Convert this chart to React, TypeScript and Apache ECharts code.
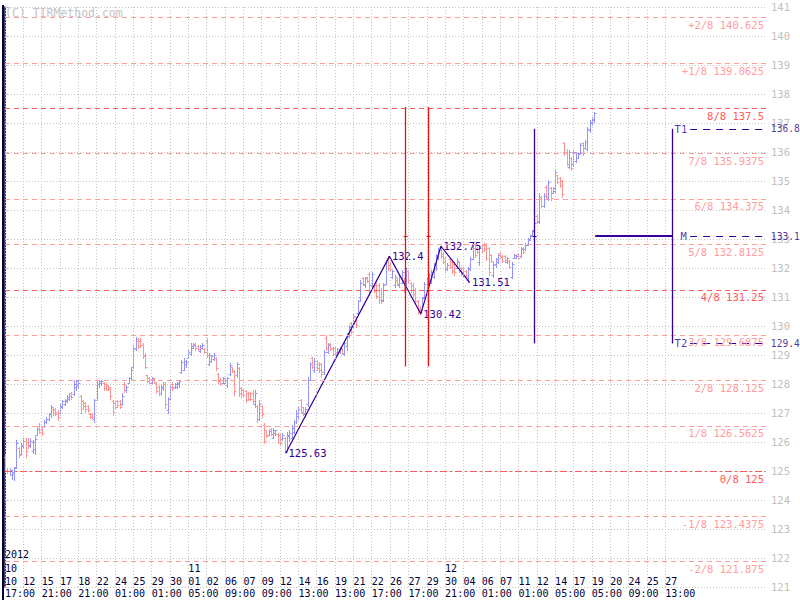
import React, { useEffect, useRef } from 'react';
import * as echarts from 'echarts';

// OHLC bars [open, high, low, close], one per slot
const octBars: number[][] = [
  [125.5,125.6,124.98,125.05],[125.05,125.09,124.92,125.0],[125.0,125.1,124.9,125.05],[124.85,125.05,124.72,124.98],
  [124.9,125.15,124.69,125.1],[125.15,126.07,125.1,125.95],[125.8,125.84,125.5,125.55],[125.6,125.95,125.58,125.85],
  [125.9,126.13,125.84,126.05],[126.05,126.13,125.5,125.7],[126.0,126.13,125.78,125.85],[125.9,126.13,125.84,126.05],
  [125.7,126.07,125.61,126.0],[125.75,126.2,125.6,126.1],[126.25,126.53,126.24,126.45],[126.55,126.64,126.3,126.35],
  [126.45,126.53,126.24,126.3],[126.55,126.76,126.53,126.7],[126.7,126.87,126.64,126.8],[126.8,126.99,126.76,126.95],
  [126.95,127.28,126.87,127.2],[127.15,127.16,126.93,127.0],[127.1,127.16,126.93,126.98],[127.05,127.1,126.76,126.85],
  [127.0,127.33,126.99,127.25],[127.2,127.45,127.16,127.4],[127.3,127.5,127.28,127.45],[127.4,127.62,127.39,127.55],
  [127.5,127.68,127.45,127.6],[127.7,127.73,127.5,127.55],[127.65,128.14,127.62,128.0],[127.9,128.14,127.79,128.1],
  [127.95,128.14,127.91,128.05],[127.6,127.62,126.99,127.15],[127.4,127.45,127.16,127.25],[127.35,127.39,127.05,127.15],
  [127.25,127.28,127.05,127.1],[126.98,126.99,126.82,126.86],[126.95,126.99,126.82,126.85],[126.8,127.5,126.7,127.45],
  [127.45,128.1,127.45,128.0],[128.0,128.14,127.91,128.1],[128.05,128.14,127.96,128.1],[128.05,128.08,127.79,127.85],
  [128.0,128.02,127.79,127.82],[127.95,127.97,127.79,127.82],[127.9,127.91,127.5,127.6],[127.4,127.45,126.93,127.05],
  [127.35,127.39,127.16,127.2],[127.4,127.45,127.22,127.28],[127.4,127.45,127.16,127.2],[127.3,127.68,127.28,127.6],
  [128.0,128.08,127.74,127.8],[127.8,127.97,127.74,127.9],[128.05,128.25,128.02,128.2],[128.2,128.6,128.14,128.5],
  [128.6,129.34,128.55,129.25],[129.2,129.63,129.17,129.55],[129.5,129.57,129.23,129.3],[129.5,129.57,129.29,129.35],
  [129.35,129.4,128.89,128.95],[129.0,129.06,128.54,128.6],[128.3,128.31,128.08,128.12],[128.2,128.25,128.02,128.05],
  [128.05,128.25,128.02,128.2],[128.18,128.2,128.02,128.05],[128.05,128.08,127.68,127.75],[127.9,127.97,127.62,127.7],
  [127.7,127.97,127.62,127.9],[127.85,128.08,127.79,128.0],[128.0,128.08,127.16,127.3],[127.1,127.56,126.99,127.5],
  [127.5,127.97,127.45,127.9],[128.0,128.08,127.79,127.85],[127.88,128.02,127.85,128.0],[127.9,128.08,127.85,128.05],
  [128.0,128.14,127.91,128.1],[128.4,128.83,128.37,128.75],[128.5,128.89,128.48,128.8],[128.7,128.83,128.6,128.75],
];
const novBars: number[][] = [
  [128.9,129.17,128.89,129.1],[129.05,129.4,129.0,129.3],[129.25,129.4,129.23,129.35],[129.38,129.4,129.17,129.25],
  [129.3,129.34,129.17,129.2],[129.15,129.34,129.11,129.3],[129.25,129.4,129.23,129.35],[129.2,129.23,129.06,129.1],
  [129.5,129.57,128.94,129.0],[128.7,129.06,128.66,129.0],[128.8,129.0,128.77,128.95],[128.85,129.06,128.83,129.0],
  [128.9,128.94,128.48,128.55],[128.35,128.37,128.02,128.1],[128.15,128.2,127.97,128.0],[128.05,128.25,128.02,128.2],
  [128.05,128.2,128.02,128.15],[127.95,128.25,127.91,128.2],[128.35,128.71,128.31,128.65],[128.58,128.6,128.43,128.45],
  [128.45,128.48,127.62,127.75],[128.3,128.77,128.25,128.7],[128.55,128.6,127.6,127.7],[127.85,127.91,127.56,127.65],
  [127.8,127.85,127.56,127.62],[127.75,127.79,127.39,127.45],[127.7,127.73,127.45,127.5],[127.7,127.73,127.45,127.5],
  [127.7,127.79,127.33,127.4],[127.3,127.79,127.22,127.7],[127.25,127.28,126.7,126.8],[126.8,127.45,126.76,127.3],
  [127.25,127.28,126.87,126.95],[126.6,126.64,125.95,126.05],[126.4,126.41,126.18,126.2],[126.25,126.41,126.24,126.38],
  [126.45,126.47,126.24,126.28],[126.15,126.47,126.13,126.42],[126.3,126.41,126.24,126.4],[126.28,126.3,125.95,126.0],
  [126.25,126.3,125.9,125.95],[126.1,126.3,126.07,126.25],[126.15,126.18,125.63,125.7],[125.7,126.35,125.65,126.25],
  [126.2,126.4,126.05,126.3],[126.15,126.6,126.1,126.5],[126.35,126.76,126.3,126.7],[126.7,127.1,126.64,127.0],
  [126.9,127.2,126.8,127.15],[127.45,127.5,126.99,127.05],[127.2,127.22,126.93,127.0],[126.95,127.2,126.87,127.15],
  [127.3,128.25,127.25,128.15],[128.15,128.77,128.14,128.7],[128.9,128.94,128.54,128.6],[128.5,128.88,128.43,128.8],
  [128.78,128.83,128.48,128.55],[128.7,128.77,128.43,128.5],[128.7,128.72,128.25,128.35],[128.4,129.17,128.35,129.1],
  [129.6,129.69,129.17,129.25],[129.1,129.4,129.06,129.35],[129.38,129.4,129.17,129.2],[129.25,129.29,129.0,129.05],
  [129.25,129.29,129.06,129.1],[129.05,129.23,129.0,129.2],[129.1,129.29,129.06,129.25],[129.2,129.23,129.06,129.08],
  [129.05,129.46,129.0,129.4],[129.3,129.75,129.17,129.7],[129.65,130.03,129.63,129.95],[130.1,130.15,129.75,129.8],
  [130.0,130.44,129.98,130.35],[130.3,130.32,129.98,130.05],[130.45,130.9,130.44,130.85],[131.0,131.6,130.85,131.5],
  [131.65,131.7,131.4,131.45],[131.4,131.7,131.36,131.65],[131.68,131.7,131.53,131.55],[131.8,131.87,131.07,131.2],
  [131.4,131.87,131.36,131.8],[131.4,131.41,131.18,131.2],[131.4,131.47,130.95,131.05],[131.4,131.47,130.78,130.9],
  [131.25,131.3,130.78,130.85],[130.9,131.5,130.85,131.4],[131.45,132.28,131.45,132.2],[132.35,132.4,131.93,132.0],
  [132.1,132.16,131.93,131.95],[131.7,131.93,131.64,131.9],[131.4,131.76,131.36,131.7],[131.6,131.64,131.41,131.45],
  [131.4,131.76,131.36,131.7],[131.5,131.93,131.47,131.85],[131.6,131.64,131.18,131.25],[131.45,131.99,131.41,131.9],
  [131.9,131.93,131.53,131.6],[131.5,131.53,131.18,131.25],[131.4,131.47,131.01,131.1],[131.25,131.3,130.78,130.85],
  [130.85,130.9,130.44,130.5],[130.6,130.7,130.42,130.48],[130.55,131.01,130.55,130.95],[131.0,131.53,130.95,131.45],
  [131.25,131.7,131.18,131.6],[131.45,131.82,131.41,131.75],[131.5,131.93,131.47,131.85],[131.7,132.16,131.64,132.1],
  [132.0,132.5,131.93,132.45],[132.4,132.7,132.3,132.65],[132.72,132.75,132.35,132.4],[132.5,132.56,132.16,132.2],
];
const decBars: number[][] = [
  [132.35,132.39,131.87,131.95],[131.95,132.16,131.93,132.1],[132.3,132.33,131.99,132.05],[132.2,132.28,131.82,131.9],
  [132.15,132.22,131.76,131.85],[132.0,132.33,131.99,132.25],[132.2,132.22,131.87,131.9],[132.0,132.05,131.76,131.8],
  [132.0,132.05,131.7,131.75],[131.9,131.93,131.64,131.68],[131.6,132.05,131.51,132.0],[131.95,132.39,131.93,132.3],
  [132.3,132.79,132.3,132.7],[132.7,132.79,132.39,132.45],[132.7,132.74,132.51,132.55],[132.2,132.79,132.1,132.7],
  [132.75,132.79,132.56,132.6],[132.8,132.85,132.62,132.65],[132.8,132.85,132.28,132.35],[132.7,132.74,131.76,131.85],
  [132.45,132.5,132.22,132.25],[131.75,132.22,131.7,132.15],[132.1,132.33,132.05,132.3],[132.2,132.5,132.16,132.45],
  [132.52,132.56,132.33,132.38],[132.42,132.45,132.22,132.25],[132.4,132.45,132.2,132.28],[132.2,132.39,132.16,132.35],
  [132.25,132.28,131.99,132.05],[131.7,132.22,131.64,132.15],[132.35,132.5,132.33,132.45],[132.35,132.45,132.33,132.42],
  [132.48,132.5,132.33,132.36],[132.4,132.74,132.39,132.65],[132.7,132.74,132.51,132.55],[132.65,132.85,132.62,132.8],
  [132.8,133.02,132.79,132.97],[133.0,133.14,132.97,133.1],[133.15,133.31,133.14,133.28],[133.3,133.65,133.2,133.55],
  [133.8,133.83,133.6,133.62],[133.6,134.57,133.54,134.45],[134.45,134.5,134.1,134.15],[134.15,134.57,134.1,134.5],
  [134.8,134.86,134.46,134.5],[134.4,135.03,134.34,134.95],[134.75,134.8,134.34,134.4],[134.6,134.8,134.57,134.75],
  [134.65,135.38,134.63,135.3],[135.2,135.21,134.92,134.95],[135.1,135.15,134.8,134.85],[135.0,135.03,134.46,134.55],
  [136.3,136.36,135.9,135.95],[136.0,136.1,135.55,135.6],[135.5,136.07,135.44,136.0],[135.8,135.84,135.38,135.45],
  [135.6,136.07,135.55,136.0],[135.7,136.01,135.67,135.95],[135.8,135.95,135.78,135.92],[135.95,136.3,135.95,136.25],
  [136.3,136.36,135.9,135.95],[136.15,136.41,136.13,136.35],[136.1,136.87,136.07,136.8],[136.75,137.1,136.7,137.05],
  [137.0,137.22,136.93,137.15],[137.1,137.39,137.05,137.35],
];

// x-axis tick labels (one tick every 8 slots)
const dayLabels = ['10','12','15','17','18','22','24','25','29','30','01','02','06','07','09','12','14','16','19','21','22','26','27','29','30','04','06','07','11','12','14','17','19','20','24','25','27'];
const timeLabels = ['17:00','','21:00','','21:00','','01:00','','01:00','','05:00','','09:00','','09:00','','13:00','','13:00','','17:00','','17:00','','21:00','','01:00','','01:00','','05:00','','05:00','','09:00','','13:00'];
const monthTicks = [0, 10, 24];
const monthNames = ['10', '11', '12'];
const yearLabel = '2012';

// Murrey math levels
const murreyNames = ['+2/8','+1/8','8/8','7/8','6/8','5/8','4/8','3/8','2/8','1/8','0/8','-1/8','-2/8'];
const murreyLevels = [140.625,139.0625,137.5,135.9375,134.375,132.8125,131.25,129.6875,128.125,126.5625,125,123.4375,121.875];
const murreyStrong = ['8/8','4/8','0/8'];

// zigzag pivots
const zigzagSlots = [122.6,167.7,181.4,190.2,202.6];
const zigzagValues = [125.63,132.4,130.42,132.75,131.51];

// targets
const targetNames = ['T1','M','T2'];
const targetValues = [136.8,133.1,129.4];

const SLOTS_PER_TICK = 8;
const X_MAX = 332;
const MONO = '"DejaVu Sans Mono", "Liberation Mono", monospace';
const UP = '#9494ff';
const DOWN = '#ff9494';
const STRONG = '#ff5a5a';
const WEAK = '#ff9c9c';
const INDIGO = '#330099';
const NAVY = '#000033';
const GRID = '#c4c4c4';

function buildOption() {
  const bars = [...octBars, ...novBars, ...decBars];
  const ohlc = bars.map((b, i) => [i, b[0], b[1], b[2], b[3]]);

  const tickLabel = (arr: (v: number) => string) => (v: number) => {
    if (v % SLOTS_PER_TICK !== 0) return '';
    return arr(v / SLOTS_PER_TICK) || '';
  };
  const mkX = (offset: number, fmt: (v: number) => string) => ({
    type: 'value', min: 0, max: X_MAX, interval: SLOTS_PER_TICK, position: 'bottom', offset,
    axisLine: { show: false }, axisTick: { show: false }, splitLine: { show: false },
    axisLabel: { show: true, formatter: fmt, margin: 0, align: 'left', verticalAlign: 'middle', color: NAVY, fontFamily: MONO, fontSize: 10, showMinLabel: true, showMaxLabel: true },
  });

  const seg = (a: number[], b: number[], color: string, width: number, type: any = 'solid') => [
    { coord: a, lineStyle: { color, width, type } }, { coord: b },
  ];

  const tSlotText = 291.9;
  const tSlotLine = 291.27;
  const dashFrom = 298.9;
  const dashTo = 330.3;
  const mFrom = 257.5;
  const red1 = 174.76, red2 = 184.8, purple = 231.05;
  const redLow = 128.6, redHigh = 137.55;
  const mVal = targetValues[1];

  const annotLines: any[] = [
    seg([red1, redLow], [red1, redHigh], '#ee1111', 1.3),
    seg([red2, redLow], [red2, redHigh], '#ee1111', 1.3),
    seg([red1 - 0.9, mVal], [red1 + 0.9, mVal], '#ee1111', 1),
    seg([red2 - 0.9, mVal], [red2 + 0.9, mVal], '#ee1111', 1),
    seg([purple, targetValues[2]], [purple, targetValues[0]], INDIGO, 1.3),
    seg([purple - 0.9, mVal], [purple + 0.9, mVal], INDIGO, 1),
    seg([tSlotLine, targetValues[2]], [tSlotLine, targetValues[0]], INDIGO, 1.3),
    seg([mFrom, mVal], [tSlotLine, mVal], INDIGO, 2),
    ...targetValues.map((v) => seg([dashFrom, v], [dashTo, v], INDIGO, 1, [7, 6])),
  ];

  const textPoints: any[] = [
    ...targetNames.map((n, i) => ({ name: n, value: [n === 'M' ? 294.5 : tSlotText, targetValues[i]], label: { color: INDIGO } })),
    ...targetValues.map((v) => ({ name: v.toFixed(1), value: [333.9, v], label: { color: '#220077', fontSize: 9.6 } })),
  ];

  return {
    animation: false,
    backgroundColor: '#ffffff',
    grid: { left: 5, right: 34, top: 7, bottom: 13, containLabel: false, outerBoundsMode: 'none' },
    xAxis: [
      mkX(0, () => ''),
      mkX(-33, (v: number) => (v === 0 ? yearLabel : '')),
      mkX(-19, tickLabel((i) => { const k = monthTicks.indexOf(i); return k >= 0 ? monthNames[k] : ''; })),
      mkX(-6, tickLabel((i) => dayLabels[i])),
      mkX(6, tickLabel((i) => timeLabels[i])),
    ],
    yAxis: {
      type: 'value', position: 'right', min: 121, max: 141, interval: 1,
      axisLine: { show: true, lineStyle: { color: NAVY, width: 1.5 } },
      axisTick: { show: true, length: 4, lineStyle: { color: '#c0c0c0' } },
      axisLabel: { color: '#c0c0c0', fontFamily: MONO, fontSize: 10.5, margin: 5 },
      splitLine: { show: true, lineStyle: { color: GRID, type: [1, 2], width: 1 } },
    },
    graphic: [
      { type: 'line', shape: { x1: 3, y1: 5, x2: 3, y2: 600 }, style: { stroke: NAVY, lineWidth: 2 }, z: 100 },
      { type: 'text', left: 5, top: 7, style: { text: '(C) TIRMethod.com', fill: '#c4c4c4', fontSize: 11.5, fontFamily: MONO }, z: 100 },
    ],
    series: [
      {
        name: 'vgrid', type: 'line', data: [], z: 0, silent: true,
        markLine: {
          silent: true, symbol: 'none', label: { show: false },
          lineStyle: { color: GRID, type: [1, 2], width: 1 },
          data: dayLabels.map((_, i) => ({ xAxis: i * SLOTS_PER_TICK })),
        },
      },
      {
        name: 'murrey', type: 'line', data: [], z: 1, silent: true,
        markLine: {
          silent: true, symbol: 'none',
          data: murreyLevels.map((v, i) => {
            const strong = murreyStrong.includes(murreyNames[i]);
            const c = strong ? STRONG : WEAK;
            return {
              yAxis: v,
              lineStyle: { color: c, width: 1, type: murreyNames[i] === '0/8' ? [7, 3, 2, 3] : [5, 4] },
              label: { show: true, position: 'insideEndBottom', formatter: `${murreyNames[i]} ${v}`, color: c, fontFamily: MONO, fontSize: 10.5, distance: 2 },
            };
          }),
        },
      },
      {
        name: 'bars', type: 'custom', z: 2, data: ohlc,
        encode: { x: 0, y: [1, 2, 3, 4] },
        renderItem: (_p: any, api: any) => {
          const s = api.value(0);
          const o = api.value(1), h = api.value(2), l = api.value(3), c = api.value(4);
          const pt = api.coord([s, h]);
          const pb = api.coord([s, l]);
          const po = api.coord([s, o]);
          const pc = api.coord([s, c]);
          const x = Math.round(pt[0]) + 0.5;
          const color = c >= o ? UP : DOWN;
          const st = { stroke: color, lineWidth: 1 };
          const yo = Math.round(po[1]) + 0.5;
          const yc = Math.round(pc[1]) + 0.5;
          return {
            type: 'group',
            children: [
              { type: 'line', shape: { x1: x, y1: Math.round(pt[1]), x2: x, y2: Math.round(pb[1]) + 1 }, style: st },
              { type: 'line', shape: { x1: x - 2, y1: yo, x2: x, y2: yo }, style: st },
              { type: 'line', shape: { x1: x, y1: yc, x2: x + 2, y2: yc }, style: st },
            ],
          };
        },
      },
      {
        name: 'annot', type: 'line', data: [], z: 3, silent: true,
        markLine: { silent: true, symbol: 'none', label: { show: false }, data: annotLines },
      },
      {
        name: 'zigzag', type: 'line', z: 4, silent: true,
        data: zigzagSlots.map((s, i) => [s, zigzagValues[i]]),
        symbol: 'circle', symbolSize: 1,
        itemStyle: { color: INDIGO },
        lineStyle: { color: INDIGO, width: 1.2 },
        label: { show: true, position: 'right', distance: 2, color: INDIGO, fontFamily: MONO, fontSize: 10.5, formatter: (p: any) => String(p.value[1]) },
      },
      {
        name: 'texts', type: 'scatter', z: 5, silent: true, clip: false,
        symbolSize: 1, itemStyle: { color: 'rgba(0,0,0,0)' },
        data: textPoints,
        label: { show: true, position: 'right', distance: 0, fontFamily: MONO, fontSize: 10.5, formatter: '{b}' },
      },
    ],
  };
}

export default function App() {
  const ref = useRef<HTMLDivElement>(null);
  useEffect(() => {
    if (!ref.current) return;
    const chart = echarts.init(ref.current, null, { renderer: 'svg' });
    chart.setOption(buildOption() as any);
    return () => chart.dispose();
  }, []);
  return <div ref={ref} style={{ position: 'absolute', left: 0, top: 0, width: 800, height: 600, background: '#fff' }} />;
}
